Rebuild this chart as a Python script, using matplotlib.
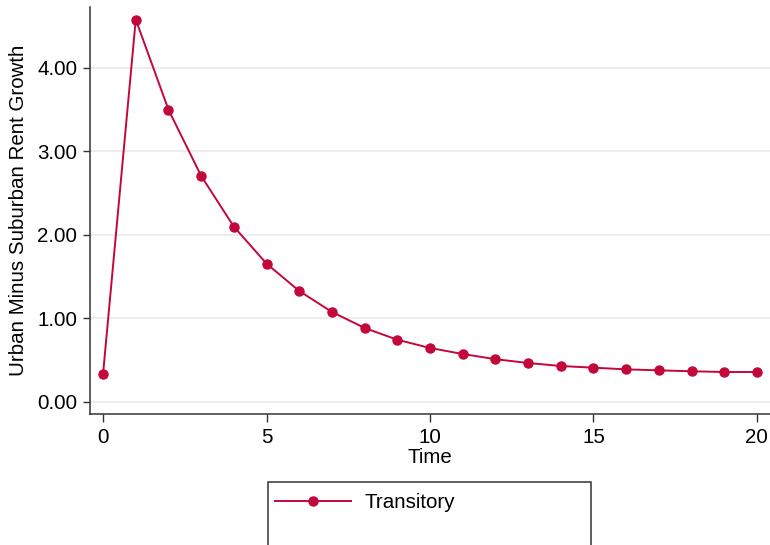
import numpy as np
import matplotlib
matplotlib.use("Agg")
import matplotlib.pyplot as plt
from matplotlib.patches import Rectangle

plt.rcParams['font.family'] = ['Liberation Sans', 'DejaVu Sans']

# impulse response of urban minus suburban rent growth
time = np.arange(0, 21)
transitory = [0.336, 4.58, 3.50, 2.706, 2.098, 1.655, 1.327, 1.076, 0.884, 0.743,
              0.644, 0.572, 0.51, 0.464, 0.428, 0.408, 0.388, 0.376, 0.365, 0.356, 0.356]

yticks = [0, 1, 2, 3, 4]
ytick_labels = ['0.00', '1.00', '2.00', '3.00', '4.00']
xticks = [0, 5, 10, 15, 20]

red = '#c4073a'
W, H = 770, 545
fs = 14.8

fig = plt.figure(figsize=(W / 100, H / 100), dpi=100)
ax = fig.add_axes([90 / W, (H - 414) / H, 680 / W, 407 / H])

line, = ax.plot(time, transitory, color=red, lw=1.4, marker='o', ms=6.5,
                label='Transitory')

ax.set_xlim(-0.4, 20.4)
ax.set_ylim(-0.147, 4.73)
ax.set_xticks(xticks)
ax.set_yticks(yticks)
ax.set_yticklabels(ytick_labels)
ax.tick_params(axis='both', labelsize=fs, width=1, color='#333333')
ax.tick_params(axis='x', length=6, pad=4)
ax.tick_params(axis='y', length=5, pad=4)

ax.grid(axis='y', color='#eaeaea', lw=1.2)
ax.set_axisbelow(True)
for side in ['top', 'right']:
    ax.spines[side].set_visible(False)
for side in ['left', 'bottom']:
    ax.spines[side].set_color('#333333')
    ax.spines[side].set_linewidth(1.1)

ax.set_xlabel('Time', fontsize=fs, labelpad=1)
ax.set_ylabel('Urban Minus Suburban Rent Growth', fontsize=fs, labelpad=7)

# legend box runs off the bottom edge
fig.patches.append(Rectangle((268 / W, (H - 560) / H), 323 / W, 78 / H,
                             transform=fig.transFigure, fill=False,
                             edgecolor='#333333', lw=1.1))
fig.legend(handles=[line], loc='upper left',
           bbox_to_anchor=(268 / W, (H - 486) / H), frameon=False,
           fontsize=fs, handlelength=3.7, handletextpad=0.65,
           borderaxespad=0, borderpad=0.35)

fig.savefig('out.png', dpi=100)
